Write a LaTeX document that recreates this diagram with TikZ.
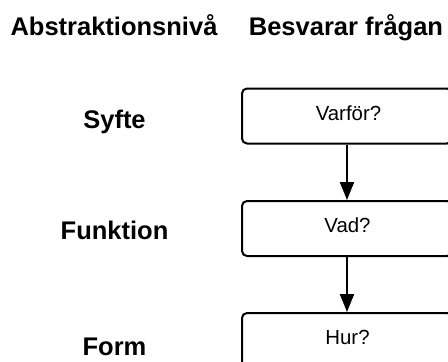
\documentclass[tikz,border=0pt]{standalone}
\usepackage{fontspec}
\setmainfont{Liberation Sans}
\usetikzlibrary{arrows.meta}
\begin{document}
\begin{tikzpicture}[x=1pt,y=-1pt,
  head/.style={font=\fontsize{25.5}{28}\selectfont\bfseries, anchor=base, inner sep=0pt},
  level/.style={font=\fontsize{25.5}{28}\selectfont\bfseries, anchor=base, inner sep=0pt},
  qbox/.style={draw=black, line width=2pt, rounded corners=5pt, minimum width=210pt,
    minimum height=55pt, inner sep=0pt},
  qtext/.style={font=\fontsize{20.4}{23}\selectfont, anchor=base, inner sep=0pt},
  flow/.style={line width=2pt, -{Triangle[length=18pt,width=14pt]}}]
  \clip (0,0) rectangle (448,362);
  \fill[white] (0,0) rectangle (448,362);

  % column headings
  \node[head] (hlevel) at (114,35) {Abstraktionsnivå};
  \node[head] (hquestion) at (346,35) {Besvarar frågan};

  % abstraction levels
  \node[level] (syfte) at (114.5,128) {Syfte};
  \node[level] (funktion) at (114.5,239) {Funktion};
  \node[level] (form) at (114.5,355) {Form};

  % question boxes
  \node[qbox] (b1) at (347,116) {};
  \node[qbox] (b2) at (347,228.5) {};
  \node[qbox] (b3) at (347,340.5) {};
  \node[qtext] (t1) at (348.5,120) {Varför?};
  \node[qtext] (t2) at (347.5,232) {Vad?};
  \node[qtext] (t3) at (347.5,344) {Hur?};

  % connectors
  \draw[flow] (b1.south) -- (b2.north);
  \draw[flow] (b2.south) -- (b3.north);
\end{tikzpicture}
\end{document}
